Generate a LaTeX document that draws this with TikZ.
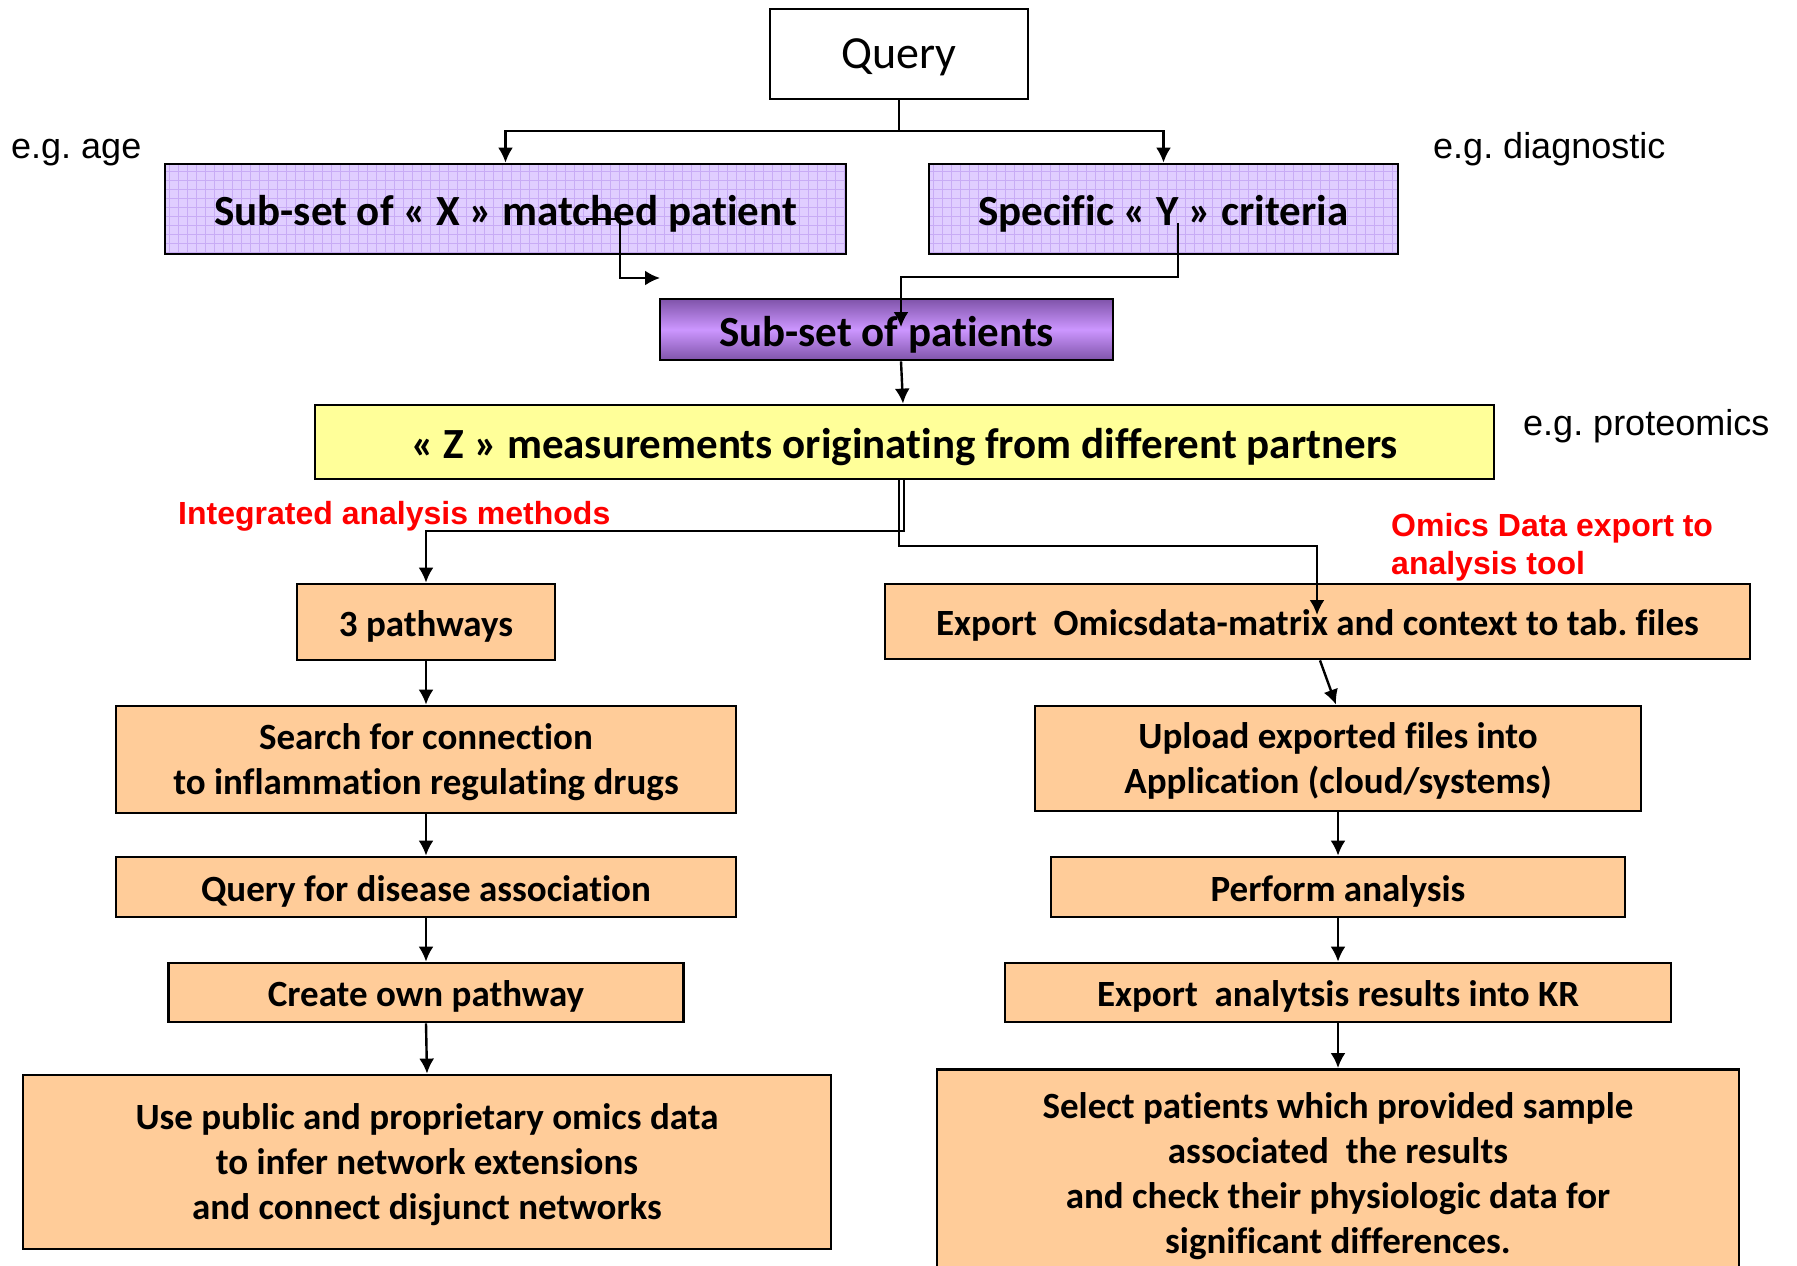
\documentclass[tikz,border=0pt]{standalone}
\usepackage{fontspec}
\setmainfont{Carlito}[Ligatures=NoCommon]
\newfontfamily\arialfont{Liberation Sans}
\usetikzlibrary{arrows.meta}
\frenchspacing

\definecolor{lavfill}{RGB}{224,206,255}
\definecolor{lavgrid}{RGB}{200,172,245}
\definecolor{purpmid}{RGB}{204,150,255}
\definecolor{purpedge}{RGB}{128,84,170}
\definecolor{orfill}{RGB}{255,204,153}
\definecolor{yelfill}{RGB}{255,255,153}
\definecolor{notered}{RGB}{255,0,0}

% fixed first-line height and last-line depth keep the text block evenly placed
\newcommand{\lineonetop}{\rule{0pt}{1.05em}}
\newcommand{\linebottom}{\rule[-0.27em]{0pt}{0pt}}

\tikzset{
  box/.style={draw=black, line width=2.8pt, inner sep=0pt, align=center,
    execute at begin node=\lineonetop, execute at end node=\linebottom},
  multi/.style={text depth=-3pt},
  bigtext/.style={font=\bfseries\fontsize{43}{50}\selectfont},
  midtext/.style={font=\bfseries\fontsize{37}{45}\selectfont},
  lavbox/.style={box, bigtext, fill=lavfill,
    path picture={\draw[lavgrid, line width=0.9pt]
      (path picture bounding box.south west) grid[step=9pt]
      (path picture bounding box.north east);}},
  purpbox/.style={box, bigtext, top color=purpedge, bottom color=purpedge, middle color=purpmid},
  yelbox/.style={box, bigtext, fill=yelfill},
  orbox/.style={box, midtext, fill=orfill},
  qbox/.style={draw=black, line width=2.8pt, fill=white, inner sep=0pt,
    font=\fontsize{46}{50}\selectfont,
    execute at begin node=\rule{0pt}{0.88em}, execute at end node=\linebottom},
  eglabel/.style={anchor=base west, inner sep=0pt, font=\arialfont\fontsize{36}{40}\selectfont},
  redlabel/.style={inner sep=0pt, text=notered, align=left,
    font=\arialfont\bfseries\fontsize{32}{38}\selectfont},
  conn/.style={line width=2.4pt, draw=black},
  arr/.style={conn, -{Latex[length=15pt,width=15pt]}},
}

\begin{document}
\begin{tikzpicture}[x=1pt,y=-1pt]
\useasboundingbox[fill=white] (0,0) rectangle (1797,1266);

% top of the flow
\node[qbox, minimum width=258pt, minimum height=90pt] (query) at (899,54) {Query};
\node[lavbox, minimum width=681pt, minimum height=90pt] (xbox) at (505.5,209)
  {Sub-set of « X » matched patient};
\node[lavbox, minimum width=469pt, minimum height=90pt] (ybox) at (1163.5,209)
  {Specific « Y » criteria};
\node[purpbox, minimum width=453pt, minimum height=61pt] (subset) at (886.5,329.5)
  {Sub-set of patients};
\node[yelbox, minimum width=1179pt, minimum height=74pt] (zbox) at (904.5,442)
  {« Z » measurements originating from different partners};

% side labels
\node[eglabel] (egage) at (11,158.5) {e.g. age};
\node[eglabel] (egdiag) at (1433,158.5) {e.g. diagnostic};
\node[eglabel] (egprot) at (1523,435) {e.g. proteomics};
\node[redlabel, anchor=base west] (integ) at (178,524.5) {Integrated analysis methods};
\node[redlabel, anchor=west] (omics) at (1391,547.5) {Omics Data export to\\analysis tool};

% left column
\node[orbox, minimum width=258pt, minimum height=76pt] (path3) at (426,622) {3 pathways};
\node[orbox, multi, minimum width=620pt, minimum height=107pt] (search) at (426,759.5)
  {Search for connection\\to inflammation regulating drugs};
\node[orbox, minimum width=620pt, minimum height=60pt] (disease) at (426,887)
  {Query for disease association};
\node[orbox, minimum width=515pt, minimum height=59pt] (create) at (426,992.5)
  {Create own pathway};
\node[orbox, multi, minimum width=808pt, minimum height=174pt] (usepub) at (427,1162)
  {Use public and proprietary omics data\\to infer network extensions\\and connect disjunct networks};

% right column
\node[orbox, minimum width=865pt, minimum height=75pt] (export) at (1317.5,621.5)
  {Export\ \ Omicsdata-matrix and context to tab. files};
\node[orbox, multi, minimum width=606pt, minimum height=105pt] (upload) at (1338,758.5)
  {Upload exported files into\\Application (cloud/systems)};
\node[orbox, minimum width=574pt, minimum height=60pt] (perform) at (1338,887)
  {Perform analysis};
\node[orbox, minimum width=666pt, minimum height=59pt] (exportres) at (1338,992.5)
  {Export\ \ analytsis results into KR};
\node[orbox, multi, minimum width=802pt, minimum height=208pt, anchor=north] (select) at (1338,1068)
  {Select patients which provided sample\\associated\ \ the results\\and check their physiologic data for\\significant differences.};

% connectors between query and criteria boxes
\coordinate (qsplit) at (899,131);
\draw[conn] (query.south) -- (qsplit);
\draw[arr] (qsplit) -| (xbox.north);
\draw[arr] (qsplit) -| (ybox.north);

\coordinate (xs) at (586,219);
\coordinate (xbend) at (620,219);
\coordinate (xe) at (660,278);
\draw[arr] (xs) -- (xbend) |- (xe);

\coordinate (ys) at (1178,223);
\coordinate (ybend) at (1178,277);
\coordinate (yt) at (901,327);
\draw[arr] (ys) -- (ybend) -| (yt);

\draw[arr] ([xshift=14.5pt]subset.south) -- ([xshift=-1.5pt]zbox.north);

% split below the measurements box
\coordinate (zl) at (904,531);
\coordinate (zr) at (899,546);
\coordinate (et) at (1317,615);
\draw[arr] ([xshift=-0.5pt]zbox.south) -- (zl) -| (path3.north);
\draw[arr] ([xshift=-5.5pt]zbox.south) -- (zr) -| (et);

% left chain
\draw[arr] (path3.south) -- (search.north);
\draw[arr] (search.south) -- (disease.north);
\draw[arr] (disease.south) -- (create.north);
\draw[arr] (create.south) -- (usepub.north);

% right chain
\draw[arr] ([xshift=2.5pt]export.south) -- ([xshift=-2pt]upload.north);
\draw[arr] (upload.south) -- (perform.north);
\draw[arr] (perform.south) -- (exportres.north);
\draw[arr] (exportres.south) -- (select.north);
\end{tikzpicture}
\end{document}
